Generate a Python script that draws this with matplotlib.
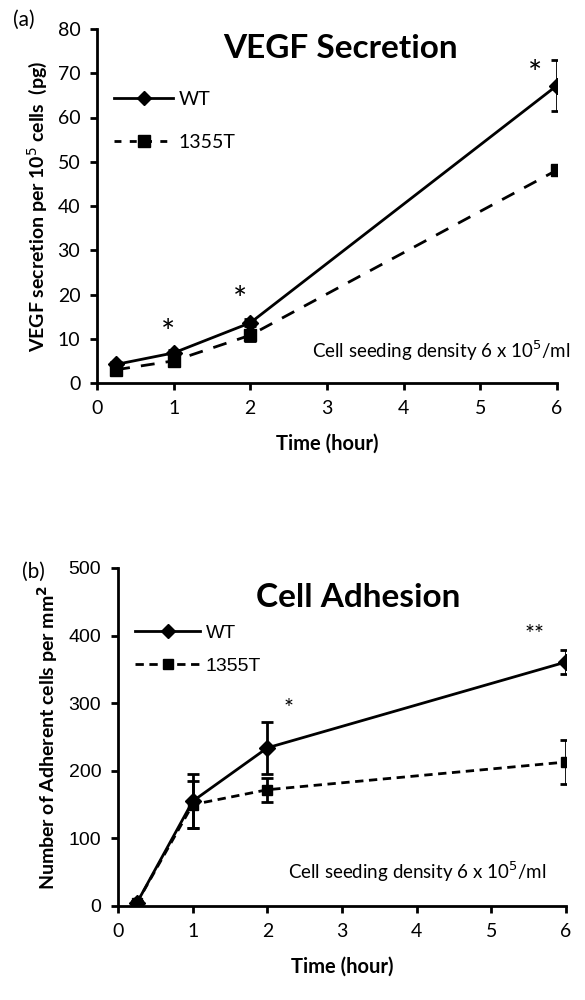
import numpy as np
import matplotlib
matplotlib.use('Agg')
import matplotlib.pyplot as plt
from matplotlib.lines import Line2D

plt.rcParams['font.family'] = ['Lato', 'DejaVu Sans']

# Panel (a): VEGF secretion
time_a = [0.25, 1, 2, 6]
vegf_wt = [4.2, 6.8, 13.6, 67.2]
vegf_wt_err = [0.6, 0.6, 0.8, 5.8]
vegf_mut = [3.0, 5.0, 10.8, 48.1]
vegf_mut_err = [0.8, 0.6, 1.2, 1.0]
stars_a = [(0.93, 11.0, '*'), (1.87, 18.5, '*'), (5.71, 69.5, '*')]

# Panel (b): cell adhesion
time_b = [0.25, 1, 2, 6]
adh_wt = [4, 155, 234, 361]
adh_wt_err = [3, 40, 38, 18]
adh_mut = [4, 150, 172, 213]
adh_mut_err = [3, 35, 18, 32]
stars_b = [(2.28, 292, '*'), (5.58, 402, '**')]

fig = plt.figure(figsize=(5.85, 10), dpi=100)
axA = fig.add_axes([0.1658, 0.617, 0.786, 0.354])
axB = fig.add_axes([0.2017, 0.094, 0.766, 0.338])


def style(ax, ymax, ystep, tickfont):
    for s in ['top', 'right']:
        ax.spines[s].set_visible(False)
    for s in ['left', 'bottom']:
        ax.spines[s].set_linewidth(2)
    ax.set_xlim(0, 6)
    ax.set_ylim(0, ymax)
    ax.set_xticks(range(0, 7))
    ax.set_yticks(np.arange(0, ymax + 1, ystep))
    ax.tick_params(direction='out', length=5, width=2, labelsize=14, pad=7)
    ax.set_xlabel('Time (hour)', fontsize=14.5, fontweight='bold', labelpad=12)
    for lab in ax.get_yticklabels():
        lab.set_family(tickfont)


def handles(dash, msq):
    return [Line2D([], [], color='black', lw=2, marker='D', ms=7),
            Line2D([], [], color='black', lw=2, ls='--', dashes=dash, marker='s', ms=msq)]


# ---- (a)
axA.errorbar(time_a, vegf_wt, yerr=vegf_wt_err, color='black', lw=2, marker='D',
             ms=8, capsize=4, capthick=2, elinewidth=2, zorder=3)
axA.errorbar(time_a, vegf_mut, yerr=vegf_mut_err, color='black', lw=2, ls='--',
             dashes=(5, 4), marker='s', ms=9, capsize=4, capthick=2, elinewidth=2,
             zorder=3)
style(axA, 80, 10, ['Lato', 'DejaVu Sans'])
axA.set_ylabel('VEGF secretion per 10$^5$ cells  (pg)', fontsize=14,
               fontweight='bold', labelpad=6)
axA.set_title('VEGF Secretion', fontsize=24, fontweight='bold', x=0.53, y=0.895)
for x, y, s in stars_a:
    axA.text(x, y, s, fontsize=24, ha='center', va='center')
axA.text(1.03, 0.09, 'Cell seeding density 6 x 10$^5$/ml', transform=axA.transAxes,
         fontsize=13.5, ha='right', va='center')
axA.legend(handles((2.5, 3), 9), ['WT', '1355T'], loc='upper left',
           bbox_to_anchor=(0.0, 0.875), frameon=False, fontsize=14,
           handlelength=3.0, labelspacing=1.35, handletextpad=0.3)
fig.text(0.04, 0.98, '(a)', fontsize=15, ha='center', va='center')

# ---- (b)
axB.errorbar(time_b, adh_wt, yerr=adh_wt_err, color='black', lw=2, marker='D',
             ms=8, capsize=4, capthick=2, elinewidth=2, zorder=3)
axB.errorbar(time_b, adh_mut, yerr=adh_mut_err, color='black', lw=2, ls='--',
             dashes=(3, 2), marker='s', ms=7, capsize=4, capthick=2, elinewidth=2,
             zorder=3)
style(axB, 500, 100, ['Liberation Sans'])
axB.set_ylabel('Number of Adherent cells per mm$^\\mathbf{2}$', fontsize=14,
               fontweight='bold', labelpad=6)
axB.set_title('Cell Adhesion', fontsize=24, fontweight='bold', x=0.536, y=0.86)
for x, y, s in stars_b:
    axB.text(x, y, s, fontsize=17, ha='center', va='center')
axB.text(0.955, 0.10, 'Cell seeding density 6 x 10$^5$/ml', transform=axB.transAxes,
         fontsize=13.5, ha='right', va='center')
axB.legend(handles((3, 2), 7), ['WT', '1355T'], loc='upper left',
           bbox_to_anchor=(0.0, 0.885), frameon=False,
           prop={'family': 'Liberation Sans', 'size': 14}, handlelength=3.3,
           labelspacing=0.8, handletextpad=0.3)
fig.text(0.058, 0.428, '(b)', fontsize=15, ha='center', va='center')

fig.savefig('out.png', dpi=100)
